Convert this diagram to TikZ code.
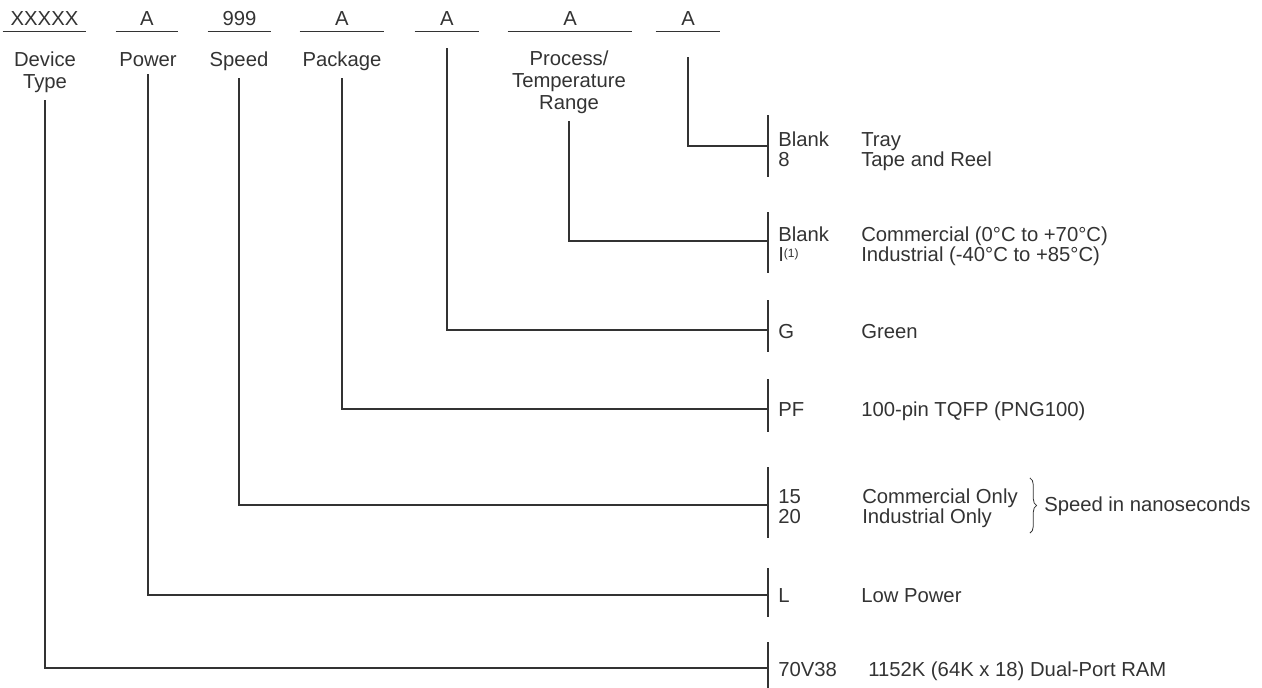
\documentclass[tikz,border=0pt]{standalone}
\usepackage{fontspec}
\setmainfont{Liberation Sans}
\usepackage{tikz}
\usetikzlibrary{calc, decorations.pathreplacing}
\definecolor{ink}{RGB}{51,51,51}

\begin{document}
\begin{tikzpicture}[
    x=0.75pt, y=-0.75pt,
    field/.style={anchor=base, inner xsep=0pt, inner ysep=4.5pt, minimum width=#1, text=ink, font=\fontsize{15.2}{16.5}\selectfont},
    caption/.style={anchor=base, align=center, inner xsep=0pt, inner ysep=6pt, text=ink, font=\fontsize{15.2}{16.5}\selectfont},
    code/.style={anchor=base west, align=left, inner sep=0pt, text=ink, font=\fontsize{15.2}{15}\selectfont},
    wire/.style={draw=ink, line width=0.9pt}
]
\useasboundingbox (0,0) rectangle (1262,687);

% part number fields
\node[field=62.3pt] (fdev) at (44.5,25) {XXXXX};
\node[field=46.5pt] (fpow) at (147,25) {A};
\node[field=47.3pt] (fspd) at (239.5,25) {999};
\node[field=63pt] (fpkg) at (342,25) {A};
\node[field=48pt] (fgrn) at (447,25) {A};
\node[field=93pt] (ftmp) at (570,25) {A};
\node[field=48pt] (fpck) at (688,25) {A};
\foreach \f in {fdev, fpow, fspd, fpkg, fgrn, ftmp, fpck}
    \draw[wire] (\f.south west) -- (\f.south east);

% base of a multi-line node is its last line
\node[caption] (dev) at (45,88) {Device\\Type};
\node[caption] (pow) at (148,66) {Power};
\node[caption] (spd) at (239,66) {Speed};
\node[caption] (pkg) at (342,66) {Package};
\node[caption] (tmp) at (569,109) {Process/\\Temperature\\Range};

% bars on the right
\coordinate (bar1) at (768,146);
\coordinate (bar2) at (768,241);
\coordinate (bar3) at (768,330);
\coordinate (bar4) at (768,409);
\coordinate (bar5) at (768,505);
\coordinate (bar6) at (768,595);
\coordinate (bar7) at (768,668);

\draw[wire] ($(bar1)+(0,-31)$) -- ($(bar1)+(0,31)$);
\draw[wire] ($(bar2)+(0,-29)$) -- ($(bar2)+(0,32)$);
\draw[wire] ($(bar3)+(0,-30)$) -- ($(bar3)+(0,22)$);
\draw[wire] ($(bar4)+(0,-30)$) -- ($(bar4)+(0,23)$);
\draw[wire] ($(bar5)+(0,-38)$) -- ($(bar5)+(0,33)$);
\draw[wire] ($(bar6)+(0,-27)$) -- ($(bar6)+(0,22)$);
\draw[wire] ($(bar7)+(0,-26)$) -- ($(bar7)+(0,24)$);

% connectors
\draw[wire] ($(fpck.south)+(0,26)$) |- (bar1);
\draw[wire] (tmp.south) |- (bar2);
\draw[wire] ($(fgrn.south)+(0,17)$) |- (bar3);
\draw[wire] (pkg.south) |- (bar4);
\draw[wire] (spd.south) |- (bar5);
\draw[wire] (pow.south) |- (bar6);
\draw[wire] (dev.south) |- (bar7);

% codes and meanings
\node[code] (c1) at (778,166) {Blank\\8};
\node[code] (d1) at (861,166) {Tray\\Tape and Reel};
\node[code] (c2) at (778,261) {Blank\\I\raisebox{2.5pt}{\fontsize{9}{9}\selectfont(1)}};
\node[code] (d2) at (861,261) {Commercial (0°C to +70°C)\\Industrial (-40°C to +85°C)};
\node[code] (c3) at (778,338) {G};
\node[code] (d3) at (861,338) {Green};
\node[code] (c4) at (778,416) {PF};
\node[code] (d4) at (861,416) {100-pin TQFP (PNG100)};
\node[code] (c5) at (778,523) {15\\20};
\node[code] (d5) at (862,523) {Commercial Only\\Industrial Only};
\node[code] (c6) at (778,602) {L};
\node[code] (d6) at (861,602) {Low Power};
\node[code] (c7) at (778,676) {70V38};
\node[code] (d7) at (868,676) {1152K (64K x 18) Dual-Port RAM};

\draw[draw=ink, line width=0.6pt, decorate, decoration={brace, amplitude=5pt}]
    ($(d5.east |- bar5)+(12,-27)$) -- ($(d5.east |- bar5)+(12,28)$);
\node[code] (ns) at (1044,511) {Speed in nanoseconds};

\end{tikzpicture}
\end{document}
